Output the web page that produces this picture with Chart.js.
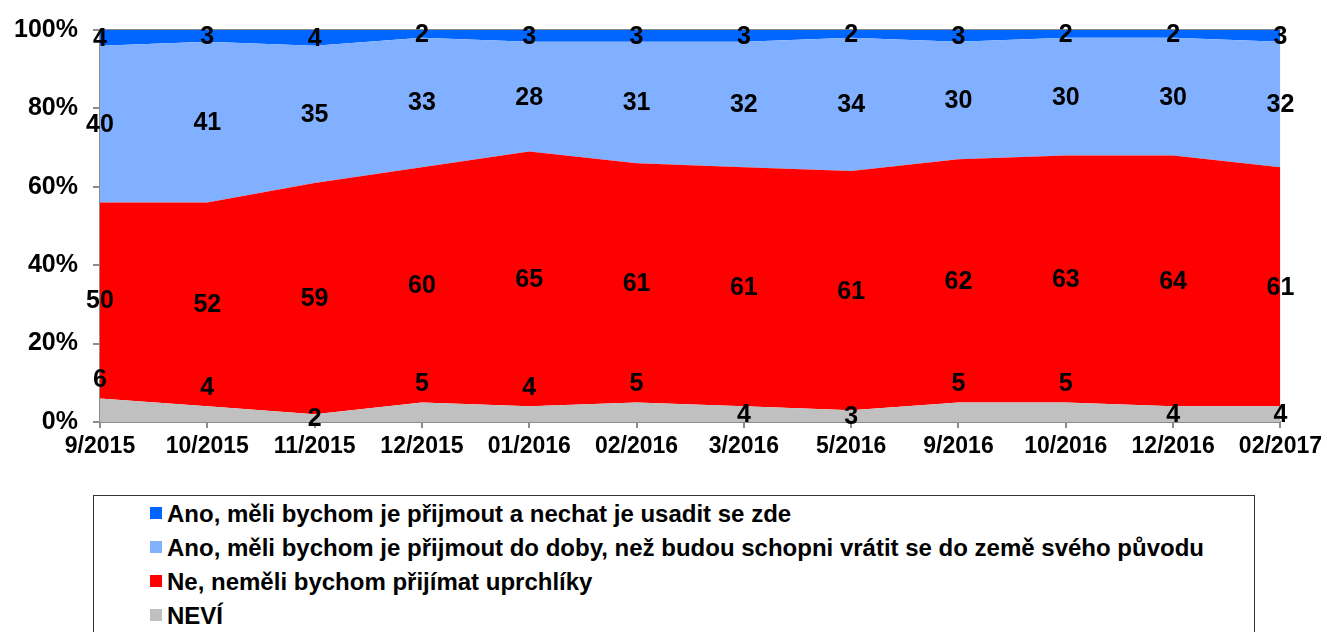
<!DOCTYPE html>
<html>
<head>
<meta charset="utf-8">
<title>Přijímání uprchlíků</title>
<script src="https://cdn.jsdelivr.net/npm/chart.js"></script>
<style>
  body { margin: 0; background: #fff; font-family: "Liberation Sans", Arial, sans-serif; }
  #wrap { position: relative; width: 1327px; height: 632px; overflow: hidden; }
  #legend {
    position: absolute; left: 93px; top: 495px; width: 1162px; height: 160px;
    border: 1px solid #333; box-sizing: border-box; padding: 1px 0 0 56px;
  }
  .item { display: flex; align-items: center; height: 34px; font-weight: bold; font-size: 24px; color: #000; white-space: nowrap; }
  .sw { display: inline-block; width: 12px; height: 12px; margin-right: 5px; margin-top: -2px; }
</style>
</head>
<body>
<div id="wrap">
  <canvas id="c" width="1327" height="470"></canvas>
  <div id="legend"></div>
</div>
<script>
// kategorie (období průzkumu)
const categories = ['9/2015', '10/2015', '11/2015', '12/2015', '01/2016', '02/2016',
  '3/2016', '5/2016', '9/2016', '10/2016', '12/2016', '02/2017'];

// hodnoty v %
const nevi      = [6, 4, 2, 5, 4, 5, 4, 3, 5, 5, 4, 4];
const ne        = [50, 52, 59, 60, 65, 61, 61, 61, 62, 63, 64, 61];
const anoDoby   = [40, 41, 35, 33, 28, 31, 32, 34, 30, 30, 30, 32];
const anoUsadit = [4, 3, 4, 2, 3, 3, 3, 2, 3, 2, 2, 3];

const seriesNames = [
  'NEVÍ',
  'Ne, neměli bychom přijímat uprchlíky',
  'Ano, měli bychom je přijmout do doby, než budou schopni vrátit se do země svého původu',
  'Ano, měli bychom je přijmout a nechat je usadit se zde'
];
const colors = ['#C0C0C0', '#FF0000', '#80B0FF', '#0066FF'];

// umístění popisků u NEVÍ (nad plochou / uvnitř)
const neviLabelAbove = [true, true, false, true, true, true, false, false, true, true, false, false];

const FONT = '"Liberation Sans", Arial, sans-serif';
const AXIS = '#8c8c8c';

const valueLabels = {
  id: 'valueLabels',
  afterDatasetsDraw(chart) {
    const ctx = chart.ctx;
    const y = chart.scales.y, x = chart.scales.x;
    ctx.save();
    ctx.font = 'bold 25px ' + FONT;
    ctx.fillStyle = '#000';
    ctx.textAlign = 'center';
    ctx.textBaseline = 'middle';
    const n = chart.data.labels.length;
    for (let j = 0; j < n; j++) {
      let base = 0;
      chart.data.datasets.forEach((ds, i) => {
        const v = ds.data[j];
        const px = x.getPixelForValue(j);
        let py;
        if (i === 0 && neviLabelAbove[j]) {
          py = y.getPixelForValue(base + v) - 19;
        } else {
          py = y.getPixelForValue(base + v / 2);
        }
        ctx.fillText(String(v), px, py + 1);
        base += v;
      });
    }
    ctx.restore();
  }
};

const datasets = [nevi, ne, anoDoby, anoUsadit].map((d, i) => ({
  label: seriesNames[i],
  data: d,
  backgroundColor: colors[i],
  borderWidth: 0,
  pointRadius: 0,
  tension: 0,
  fill: i === 0 ? 'origin' : '-1'
}));

new Chart(document.getElementById('c'), {
  type: 'line',
  data: { labels: categories, datasets: datasets },
  options: {
    responsive: false,
    animation: false,
    layout: { padding: { top: 27, right: 45, left: 0, bottom: 0 } },
    plugins: { legend: { display: false }, tooltip: { enabled: false } },
    scales: {
      x: {
        offset: false,
        grid: { display: true, drawOnChartArea: false, drawTicks: true, tickLength: 6, color: AXIS, lineWidth: 2 },
        border: { display: true, color: AXIS, width: 2 },
        ticks: { color: '#000', font: { family: FONT, size: 23, weight: 'bold' }, padding: 5, maxRotation: 0, autoSkip: false },
        afterFit: s => { s.height = 48; }
      },
      y: {
        stacked: true,
        min: 0, max: 100,
        grid: {
          display: true, drawOnChartArea: true, drawTicks: true, tickLength: 7, lineWidth: 2,
          color: c => (c.tick && c.tick.value === 100 ? AXIS : 'rgba(0,0,0,0)'),
          tickColor: AXIS
        },
        border: { display: true, color: AXIS, width: 2 },
        ticks: { stepSize: 20, color: '#000', font: { family: FONT, size: 25, weight: 'bold' }, padding: 15,
          callback: v => v + '%' },
        afterFit: s => { s.width = 100; }
      }
    }
  },
  plugins: [valueLabels]
});

// legenda (pořadí shora: od horní vrstvy)
const legend = document.getElementById('legend');
for (let i = seriesNames.length - 1; i >= 0; i--) {
  const div = document.createElement('div');
  div.className = 'item';
  const sw = document.createElement('span');
  sw.className = 'sw';
  sw.style.background = colors[i];
  div.appendChild(sw);
  div.appendChild(document.createTextNode(seriesNames[i]));
  legend.appendChild(div);
}
</script>
</body>
</html>
